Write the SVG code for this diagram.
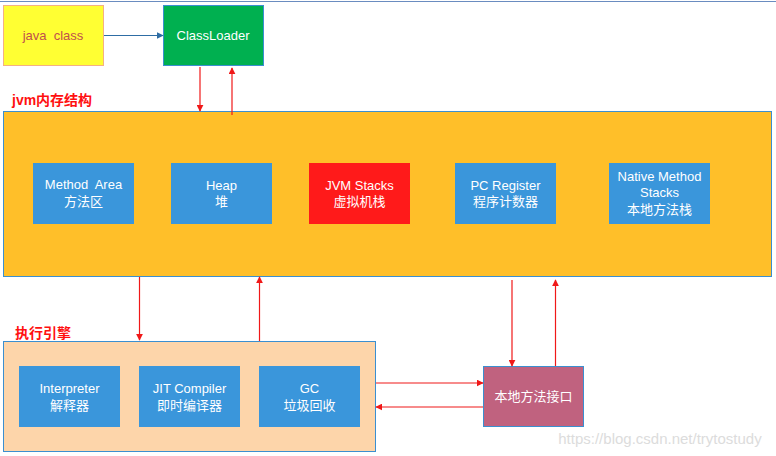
<svg xmlns="http://www.w3.org/2000/svg" width="776" height="456" viewBox="0 0 776 456">
<defs>
<style>
text{font-family:"Liberation Sans","Noto Sans CJK SC",sans-serif;font-size:13px;text-anchor:middle;white-space:pre}
.w{fill:#ffffff}
.box{fill:#3A96DB}
.lbl{fill:#FF1010;font-weight:bold;font-size:14px;text-anchor:start}
.red{stroke:#F01818;stroke-width:1.2;fill:none}
.bd{stroke:#3B8FD0;stroke-width:1}
</style>
<marker id="ar" viewBox="0 0 10 10" refX="9" refY="5" markerWidth="7" markerHeight="7" orient="auto" markerUnits="userSpaceOnUse"><path d="M0,0 L10,5 L0,10 z" fill="#F01818"/></marker>
<marker id="ab" viewBox="0 0 10 10" refX="9" refY="5" markerWidth="7" markerHeight="7" orient="auto" markerUnits="userSpaceOnUse"><path d="M0,0 L10,5 L0,10 z" fill="#2E6DA4"/></marker>
</defs>
<rect width="776" height="456" fill="#ffffff"/>
<line x1="0" y1="1.5" x2="776" y2="1.5" stroke="#6A8CC0" stroke-width="1"/>

<g id="java-class"><rect x="3.5" y="5.5" width="100" height="60" fill="#FFFF33" stroke="#F4B183"/><text x="53" y="40" fill="#C0504D" xml:space="preserve">java  class</text></g>
<g id="classloader"><rect x="163.5" y="5.5" width="100" height="60" fill="#00B050" class="bd"/><text x="213" y="40" class="w">ClassLoader</text></g>

<g id="jvm-memory"><rect x="3.5" y="111.5" width="768" height="165" fill="#FFBF29" class="bd"/><text x="12" y="105" class="lbl">jvm内存结构</text></g>
<g id="method-area"><rect x="33" y="163" width="101" height="61" class="box"/><text x="83.5" y="189" class="w" xml:space="preserve">Method  Area</text><text x="83.5" y="206" class="w">方法区</text></g>
<g id="heap"><rect x="171" y="163" width="101" height="61" class="box"/><text x="221.5" y="190" class="w">Heap</text><text x="221.5" y="206" class="w">堆</text></g>
<g id="jvm-stacks"><rect x="309" y="163" width="101" height="61" fill="#FF1A1A"/><text x="359.5" y="190" class="w">JVM Stacks</text><text x="359.5" y="206" class="w">虚拟机栈</text></g>
<g id="pc-register"><rect x="455" y="163" width="101" height="61" class="box"/><text x="505.5" y="190" class="w">PC Register</text><text x="505.5" y="206" class="w">程序计数器</text></g>
<g id="native-stacks"><rect x="609" y="163" width="101" height="61" class="box"/><text x="659.5" y="181" class="w">Native Method</text><text x="659.5" y="197" class="w">Stacks</text><text x="659.5" y="214" class="w">本地方法栈</text></g>

<g id="exec-engine"><rect x="3.5" y="341.5" width="372" height="110" fill="#FDD5AA" class="bd"/><text x="15" y="338" class="lbl">执行引擎</text></g>
<g id="interpreter"><rect x="19" y="366" width="101" height="61" class="box"/><text x="69.5" y="393" class="w">Interpreter</text><text x="69.5" y="410" class="w">解释器</text></g>
<g id="jit"><rect x="139" y="366" width="101" height="61" class="box"/><text x="189.5" y="393" class="w">JIT Compiler</text><text x="189.5" y="410" class="w">即时编译器</text></g>
<g id="gc"><rect x="259" y="366" width="101" height="61" class="box"/><text x="309.5" y="393" class="w">GC</text><text x="309.5" y="410" class="w">垃圾回收</text></g>

<g id="native-interface"><rect x="483.5" y="366.5" width="100" height="60" fill="#C0627F" class="bd"/><text x="533.5" y="401" class="w">本地方法接口</text></g>

<g id="connectors">
<line x1="104" y1="35.5" x2="163" y2="35.5" stroke="#2E6DA4" stroke-width="1.2" marker-end="url(#ab)"/>
<line x1="200" y1="67" x2="200" y2="111" class="red" marker-end="url(#ar)"/>
<line x1="232" y1="115" x2="232" y2="68" class="red" marker-end="url(#ar)"/>
<line x1="139.5" y1="277" x2="139.5" y2="340" class="red" marker-end="url(#ar)"/>
<line x1="259.5" y1="341" x2="259.5" y2="277" class="red" marker-end="url(#ar)"/>
<line x1="512" y1="280" x2="512" y2="366" class="red" marker-end="url(#ar)"/>
<line x1="555.5" y1="366" x2="555.5" y2="280" class="red" marker-end="url(#ar)"/>
<line x1="376" y1="383" x2="483" y2="383" class="red" marker-end="url(#ar)"/>
<line x1="483" y1="407" x2="376" y2="407" class="red" marker-end="url(#ar)"/>
</g>
<text x="660" y="444" fill="#DCDCDC" style="font-size:15px">https://blog.csdn.net/trytostudy</text>
</svg>
